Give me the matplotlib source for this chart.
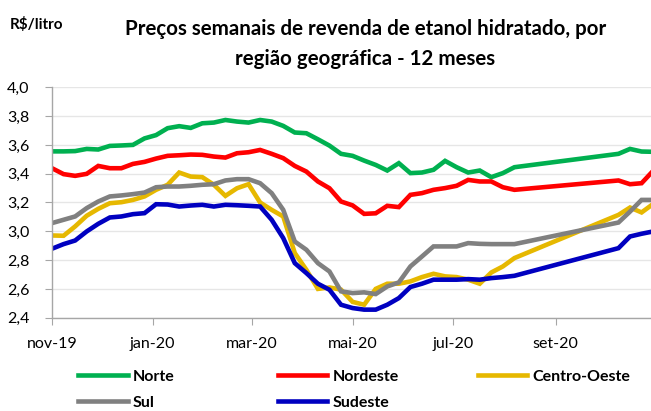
import matplotlib
matplotlib.use('Agg')
import matplotlib.pyplot as plt
import numpy as np
import pandas as pd

plt.rcParams['font.family'] = ['Lato', 'DejaVu Sans']

# semanas (53 levantamentos), NaN = semana sem dado no grafico original
datas = pd.date_range('2019-11-01', periods=53, freq='7D')

norte = [3.555, 3.555, 3.557, 3.572, 3.568, 3.593, 3.596, 3.600, 3.645, 3.668,
         3.716, 3.730, 3.718, 3.750, 3.755, 3.773, 3.762, 3.755, 3.773, 3.762,
         3.732, 3.686, 3.681, 3.639, 3.595, 3.538, 3.524, 3.491, 3.461, 3.422,
         3.473, 3.404, 3.408, 3.427, 3.489, 3.445, 3.408, 3.422, 3.376, 3.404,
         3.445, np.nan, np.nan, np.nan, np.nan, np.nan, np.nan, np.nan, np.nan,
         3.538, 3.572, 3.554, 3.552]
nordeste = [3.438, 3.397, 3.385, 3.399, 3.454, 3.438, 3.438, 3.468, 3.482, 3.505,
            3.524, 3.528, 3.533, 3.531, 3.519, 3.512, 3.542, 3.549, 3.565, 3.538,
            3.508, 3.454, 3.415, 3.346, 3.299, 3.207, 3.180, 3.121, 3.125, 3.177,
            3.168, 3.253, 3.265, 3.288, 3.300, 3.316, 3.357, 3.346, 3.346, 3.306,
            3.288, np.nan, np.nan, np.nan, np.nan, np.nan, np.nan, np.nan, np.nan,
            3.353, 3.327, 3.334, 3.420]
centro_oeste = [2.971, 2.969, 3.034, 3.108, 3.156, 3.195, 3.202, 3.218, 3.242, 3.288,
                3.323, 3.408, 3.380, 3.376, 3.323, 3.246, 3.299, 3.327, 3.200, 3.149,
                3.103, 2.849, 2.733, 2.600, 2.610, 2.595, 2.510, 2.490, 2.600, 2.636,
                2.636, 2.652, 2.682, 2.705, 2.687, 2.682, 2.664, 2.636, 2.714, 2.756,
                2.814, np.nan, np.nan, np.nan, np.nan, np.nan, np.nan, np.nan, np.nan,
                3.114, 3.165, 3.131, 3.190]
sul = [3.057, 3.080, 3.103, 3.161, 3.207, 3.242, 3.249, 3.258, 3.269, 3.306,
       3.311, 3.311, 3.316, 3.323, 3.327, 3.353, 3.362, 3.362, 3.334, 3.265,
       3.149, 2.929, 2.872, 2.779, 2.721, 2.583, 2.571, 2.576, 2.564, 2.617,
       2.645, 2.756, 2.825, 2.895, 2.895, 2.895, 2.918, 2.913, 2.911, 2.911,
       2.911, np.nan, np.nan, np.nan, np.nan, np.nan, np.nan, np.nan, np.nan,
       3.061, 3.137, 3.218, 3.218]
sudeste = [2.879, 2.911, 2.936, 2.999, 3.052, 3.096, 3.103, 3.119, 3.126, 3.188,
           3.186, 3.172, 3.179, 3.184, 3.172, 3.184, 3.181, 3.177, 3.172, 3.080,
           2.953, 2.779, 2.710, 2.636, 2.594, 2.490, 2.467, 2.456, 2.456, 2.490,
           2.536, 2.613, 2.636, 2.664, 2.664, 2.664, 2.668, 2.664, 2.675, 2.682,
           2.691, np.nan, np.nan, np.nan, np.nan, np.nan, np.nan, np.nan, np.nan,
           2.883, 2.964, 2.983, 2.999]

regioes = ['Norte', 'Nordeste', 'Centro-Oeste', 'Sul', 'Sudeste']
series = [norte, nordeste, centro_oeste, sul, sudeste]
cores = ['#00B050', '#FF0000', '#E6B800', '#808080', '#0000C0']

tick_datas = pd.to_datetime(['2019-11-01', '2020-01-01', '2020-03-01',
                             '2020-05-01', '2020-07-01', '2020-09-01'])
tick_nomes = ['nov-19', 'jan-20', 'mar-20', 'mai-20', 'jul-20', 'set-20']

fig = plt.figure(figsize=(6.51, 4.11), dpi=100)
ax = fig.add_axes([0.0799, 0.227, 0.9201, 0.5606])

linhas = []
for nome, valores, cor in zip(regioes, series, cores):
    v = np.array(valores)
    ok = ~np.isnan(v)
    l, = ax.plot(datas[ok], v[ok], color=cor, lw=3.3, label=nome,
                 solid_joinstyle='miter')
    linhas.append(l)

ax.set_ylim(2.4, 4.0)
ax.set_yticks(np.arange(2.4, 4.01, 0.2))
ax.set_yticklabels([('%.1f' % t).replace('.', ',') for t in np.arange(2.4, 4.01, 0.2)])
ax.set_xlim(datas[0], datas[0] + pd.Timedelta(days=362.7))
ax.set_xticks(tick_datas)
ax.set_xticklabels(tick_nomes)

ax.grid(axis='y', color='#e6e6e6', lw=1)
ax.set_axisbelow(True)
for s in ['top', 'right']:
    ax.spines[s].set_visible(False)
for s in ['left', 'bottom']:
    ax.spines[s].set_color('#a6a6a6')
    ax.spines[s].set_linewidth(1)
ax.tick_params(axis='y', length=5, color='#a6a6a6', labelsize=11.5, pad=11)
ax.tick_params(axis='x', length=5, color='#a6a6a6', labelsize=11.5, pad=9)

fig.text(0.015, 0.94, 'R$/litro', fontsize=11, fontweight='bold', ha='left', va='center')
fig.text(0.561, 0.893, 'Preços semanais de revenda de etanol hidratado, por\nregião geográfica - 12 meses',
         fontsize=14.8, fontweight='bold', ha='center', va='center', linespacing=1.6)

# legenda em 3 colunas fixas
colunas = [(0.12, [0, 3]), (0.427, [1, 4]), (0.734, [2])]
for x, idx in colunas:
    fig.legend(handles=[linhas[i] for i in idx], loc='upper left',
               bbox_to_anchor=(x, 0.1), frameon=False, borderpad=0,
               borderaxespad=0, handlelength=3.1, handletextpad=0.3,
               labelspacing=0.74, prop={'weight': 'bold', 'size': 11.5})

fig.savefig('out.png', dpi=100)
